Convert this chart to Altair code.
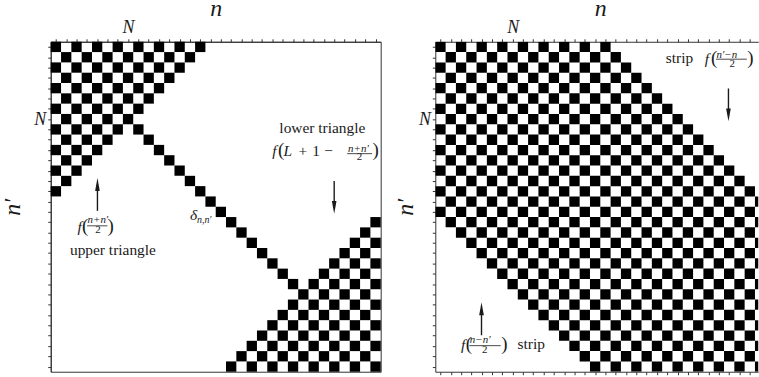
import altair as alt
import pandas as pd

# ---- matrix structure -------------------------------------------------------
SIZE = 32            # n, n' run over 0..31
N_INDEX = 7          # the index marked "N" on both axes
UPPER_SUM = 14       # upper triangle: n + n' <= 14
LOWER_SUM = 48       # lower triangle: n + n' >= 48
STRIP_HALF = 16      # strip: |n - n'| <= 16

SERIF = "Liberation Serif"
INK = "#1a1a1a"
FRAME = "#333333"

CELL = 331.7 / SIZE            # pixel size of one matrix cell
PANEL_H = SIZE * CELL
LEFT_W = SIZE * CELL
RIGHT_DOMAIN = 31.32           # right panel runs off the page edge
RIGHT_W = RIGHT_DOMAIN * CELL

TICKS = [i + 0.5 for i in range(SIZE)]
TICKS_RIGHT = [t for t in TICKS if t < RIGHT_DOMAIN]
LABEL_EXPR = f"datum.value == {N_INDEX + 0.5} ? 'N' : ''"


def cells(keep):
    """Non-zero entries (n + n' even) that satisfy `keep`."""
    ns, ms = [], []
    for m in range(SIZE):
        for n in range(SIZE):
            if (n + m) % 2 == 0 and keep(n, m):
                ns.append(n)
                ms.append(m)
    return pd.DataFrame({"n": ns, "n1": [v + 1 for v in ns],
                         "m": ms, "m1": [v + 1 for v in ms]})


left_cells = cells(lambda n, m: n + m <= UPPER_SUM or n + m >= LOWER_SUM or n == m)
right_cells = cells(lambda n, m: abs(n - m) <= STRIP_HALF)

# ---- annotation text: (n, n', text, size, italic, align) ----------------------
LEFT_TEXT = [
    (2.60, 18.43, "f", 15.5, True, "left"),
    (3.04, 18.43, "(", 19, False, "left"),
    (3.57, 17.56, "n+n′", 11, True, "left"),
    (4.58, 18.52, "2", 11, False, "center"),
    (5.50, 18.43, ")", 19, False, "left"),
    (6.03, 20.64, "upper triangle", 15.5, False, "center"),
    (13.51, 17.27, "δ", 15.5, True, "left"),
    (14.18, 17.56, "n,n′", 10, True, "left"),
    (26.34, 8.88, "lower triangle", 15.5, False, "center"),
    (21.48, 11.09, "f", 15.5, True, "left"),
    (22.04, 11.09, "(", 19, False, "left"),
    (22.58, 11.09, "L", 15.5, True, "left"),
    (24.02, 11.09, "+", 15.5, False, "left"),
    (25.37, 11.09, "1", 15.5, False, "left"),
    (26.53, 11.09, "−", 15.5, False, "left"),
    (28.84, 10.71, "n+n′", 11, True, "left"),
    (29.95, 11.48, "2", 11, False, "center"),
    (31.21, 11.09, ")", 19, False, "left"),
]
LEFT_BARS = [(3.52, 5.50, 17.85), (28.75, 31.16, 10.85)]
LEFT_ARROWS = [(4.53, 16.40, 13.22), (27.49, 13.51, 16.69)]   # (n, tail, tip)

RIGHT_TEXT = [
    (22.35, 2.03, "strip", 15.5, False, "left"),
    (26.12, 2.12, "f", 15.5, True, "left"),
    (26.74, 2.12, "(", 19, False, "left"),
    (27.27, 1.54, "n′−n", 11, True, "left"),
    (28.79, 2.41, "2", 11, False, "center"),
    (30.26, 2.12, ")", 19, False, "left"),
    (2.48, 29.91, "f", 15.5, True, "left"),
    (2.96, 29.91, "(", 19, False, "left"),
    (3.35, 29.23, "n−n′", 11, True, "left"),
    (4.80, 30.15, "2", 11, False, "center"),
    (6.39, 29.91, ")", 19, False, "left"),
    (7.98, 29.81, "strip", 15.5, False, "left"),
]
RIGHT_BARS = [(27.22, 30.21, 1.69), (3.30, 6.34, 29.47)]
RIGHT_ARROWS = [(28.43, 4.53, 7.72), (4.48, 28.46, 25.27)]

HEAD_PX = 13.0


def axis(orient, values, title="", labels=True, title_pad=0, title_x=None):
    kw = dict(
        orient=orient, values=values, grid=False,
        ticks=True, tickSize=3, tickColor=FRAME, tickWidth=1,
        domainColor=FRAME, domainWidth=1,
        labels=labels, labelExpr=LABEL_EXPR, labelFont=SERIF, labelFontSize=18,
        labelFontStyle="italic", labelColor=INK, labelPadding=2,
        labelOverlap=False, labelFlush=False, labelAngle=0,
        title=title, titleFont=SERIF, titleFontSize=24, titleFontStyle="italic",
        titleFontWeight="normal", titleColor=INK, titlePadding=title_pad,
    )
    if title_x is not None:
        kw["titleX"] = title_x
    return alt.Axis(**kw)


def panel(cell_df, width, x_max, texts, bars, arrows, x_axis, y_axis, bottom_axis, clip):
    xs = alt.Scale(domain=[0, x_max], nice=False, zero=False)
    ys = alt.Scale(domain=[0, SIZE], nice=False, zero=False, reverse=True)

    layers = [
        alt.Chart(cell_df).mark_rect(color="black", strokeWidth=0, clip=clip).encode(
            x=alt.X("n:Q", scale=xs, axis=x_axis),
            x2="n1:Q",
            y=alt.Y("m:Q", scale=ys, axis=y_axis),
            y2="m1:Q",
        )
    ]
    if bottom_axis is not None:
        # invisible layer that only carries the bottom tick row
        layers.append(
            alt.Chart(pd.DataFrame({"bx": [0.5]})).mark_point(opacity=0).encode(
                x=alt.X("bx:Q", scale=xs, axis=bottom_axis),
            )
        )

    for (n, m, s, size, italic, align) in texts:
        layers.append(
            alt.Chart(pd.DataFrame({"ax": [n], "ay": [m], "s": [s]})).mark_text(
                align=align, baseline="alphabetic", font=SERIF, fontSize=size,
                fontStyle="italic" if italic else "normal", color=INK,
            ).encode(
                x=alt.X("ax:Q", scale=xs, axis=None),
                y=alt.Y("ay:Q", scale=ys, axis=None),
                text="s:N",
            )
        )

    bar_df = pd.DataFrame({"a": [b[0] for b in bars], "b": [b[1] for b in bars],
                           "ay": [b[2] for b in bars]})
    layers.append(
        alt.Chart(bar_df).mark_rule(color=INK, strokeWidth=0.8).encode(
            x=alt.X("a:Q", scale=xs, axis=None), x2="b:Q",
            y=alt.Y("ay:Q", scale=ys, axis=None),
        )
    )

    head = HEAD_PX / CELL
    for (n, tail, tip) in arrows:
        down = tip > tail
        centre = tip - head / 2 if down else tip + head / 2
        shape = "M0,1L0.36,-1L-0.36,-1Z" if down else "M0,-1L0.36,1L-0.36,1Z"
        layers.append(
            alt.Chart(pd.DataFrame({"ax": [n], "t0": [tail], "t1": [centre]})).mark_rule(
                color=INK, strokeWidth=1.4
            ).encode(
                x=alt.X("ax:Q", scale=xs, axis=None),
                y=alt.Y("t0:Q", scale=ys, axis=None), y2="t1:Q",
            )
        )
        layers.append(
            alt.Chart(pd.DataFrame({"ax": [n], "ay": [centre]})).mark_point(
                shape=shape, filled=True, color=INK, opacity=1, size=HEAD_PX ** 2,
                strokeWidth=0,
            ).encode(
                x=alt.X("ax:Q", scale=xs, axis=None),
                y=alt.Y("ay:Q", scale=ys, axis=None),
            )
        )

    return (
        alt.layer(*layers)
        .resolve_axis(x="independent", y="independent")
        .properties(width=width, height=PANEL_H)
    )


left = panel(
    left_cells, LEFT_W, SIZE, LEFT_TEXT, LEFT_BARS, LEFT_ARROWS,
    axis("top", TICKS, title="n", title_pad=-2),
    axis("left", TICKS, title="n′", title_pad=9),
    None, False,
).properties(view=alt.ViewBackground(stroke=FRAME, strokeWidth=1))

right = panel(
    right_cells, RIGHT_W, RIGHT_DOMAIN, RIGHT_TEXT, RIGHT_BARS, RIGHT_ARROWS,
    axis("top", TICKS_RIGHT, title="n", title_pad=-2, title_x=LEFT_W / 2),
    axis("left", TICKS, title="n′", title_pad=1),
    axis("bottom", TICKS_RIGHT, labels=False), True,
)

chart = (
    alt.hconcat(left, right, spacing=10.6)
    .properties(padding={"left": 0, "top": -5, "right": 0, "bottom": 0},
                background="white")
    .configure_view(strokeWidth=0)
)

chart.save("out.html", embed_options={"renderer": "svg", "actions": False})
